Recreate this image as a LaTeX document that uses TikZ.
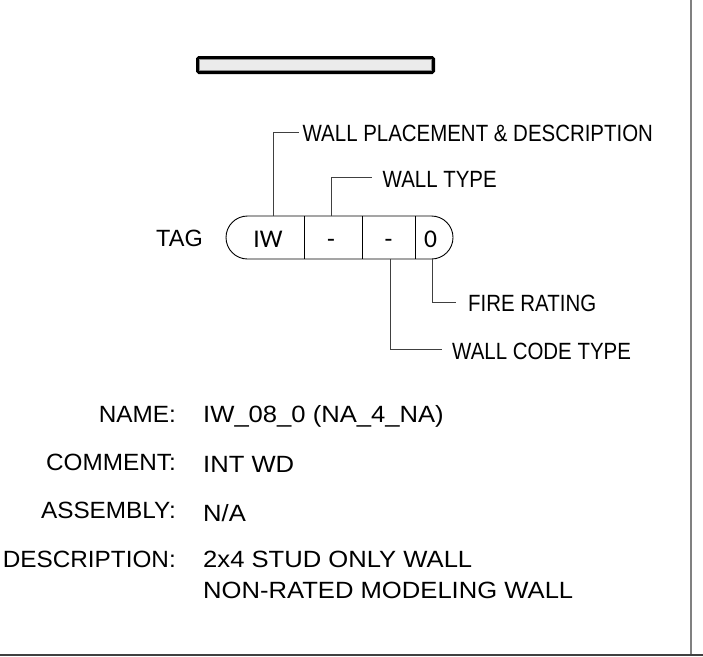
\documentclass[tikz,border=0pt]{standalone}
\usepackage{fontspec}
\setmainfont{Liberation Sans}
\newfontfamily\leadfont{Liberation Sans}[FakeStretch=0.87]
\newfontfamily\keyfont{Liberation Sans}[FakeStretch=1.035]
\newfontfamily\propfont{Liberation Sans}[FakeStretch=1.09]
\newfontfamily\tagfont{Carlito}
\begin{document}
\begin{tikzpicture}[x=1pt,y=-1pt,
  lbl/.style={inner sep=0pt,font=\fontsize{23.5}{28}\selectfont},
  key/.style={inner sep=0pt,font=\keyfont\fontsize{23.5}{28}\selectfont},
  prop/.style={inner sep=0pt,font=\propfont\fontsize{23.5}{28}\selectfont},
  leadlbl/.style={inner sep=0pt,font=\leadfont\fontsize{23.5}{28}\selectfont},
  taglbl/.style={inner sep=0pt,font=\tagfont\fontsize{25.5}{28}\selectfont},
  lead/.style={draw=black!75,line width=1pt},
  pill/.style={draw=black,line width=0.9pt}]
\useasboundingbox (0,0) rectangle (703,656);
% frame lines
\draw[draw=black!50,line width=2pt] (690.5,0) -- (690.5,656);
\draw[draw=black!75,line width=2pt] (0,655) -- (703,655);
% wall bar
\draw[fill=black!8,draw=black,line width=3pt,rounded corners=1.5pt] (197.5,57.5) rectangle (433.5,72.5);
\draw[draw=black!45,line width=0.8pt] (199.6,59.6) rectangle (431.4,70.4);
% tag pill
\draw[pill,rounded corners=21.5pt] (226,216) rectangle (453,259);
\draw[pill] (304,216) -- (304,259);
\draw[pill] (362,216) -- (362,259);
\draw[pill] (415,216) -- (415,259);
\node[taglbl,anchor=base] (iw) at (268,247) {IW};
\node[taglbl,anchor=base] (d1) at (331,247) {-};
\node[taglbl,anchor=base] (d2) at (388.5,247) {-};
\node[taglbl,anchor=base] (z0) at (430.5,247) {0};
\node[lbl,anchor=base east] (tag) at (203,246) {TAG};
% leader labels
\node[leadlbl,anchor=base west] (t1) at (302.5,141) {WALL PLACEMENT \& DESCRIPTION};
\node[leadlbl,anchor=base west] (t2) at (382.5,187) {WALL TYPE};
\node[leadlbl,anchor=base west] (t3) at (468,311) {FIRE RATING};
\node[leadlbl,anchor=base west] (t4) at (452,359) {WALL CODE TYPE};
\coordinate (c1) at (273,216);
\coordinate (e1) at (299,132.5);
\coordinate (c2) at (331,216);
\coordinate (e2) at (372,177.5);
\coordinate (c3) at (432,259);
\coordinate (e3) at (456,302.5);
\coordinate (c4) at (390.5,259);
\coordinate (e4) at (442,349);
\draw[lead] (c1) |- (e1);
\draw[lead] (c2) |- (e2);
\draw[lead] (c3) |- (e3);
\draw[lead] (c4) |- (e4);
% properties
\node[key,anchor=base east] (k1) at (176,422) {NAME:};
\node[prop,anchor=base west] (v1) at (203,422) {IW\_08\_0 (NA\_4\_NA)};
\node[key,anchor=base east] (k2) at (176,470) {COMMENT:};
\node[prop,anchor=base west] (v2) at (203,472) {INT WD};
\node[key,anchor=base east] (k3) at (176,518) {ASSEMBLY:};
\node[prop,anchor=base west] (v3) at (203,521) {N/A};
\node[key,anchor=base east] (k4) at (176,567) {DESCRIPTION:};
\node[prop,anchor=base west] (v4) at (203,567) {2x4 STUD ONLY WALL};
\node[prop,anchor=base west] (v5) at (203,598) {NON-RATED MODELING WALL};
\end{tikzpicture}
\end{document}
